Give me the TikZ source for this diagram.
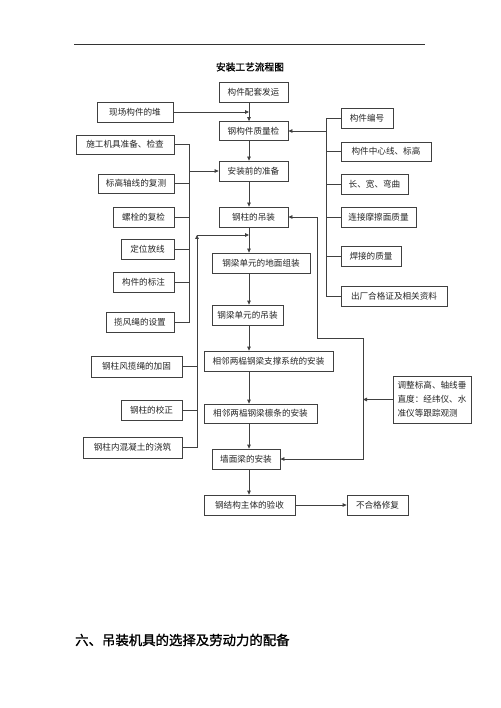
\documentclass[tikz,border=0pt]{standalone}
\usepackage{fontspec}
\setmainfont{Noto Sans CJK SC}
\newfontfamily\cjkbold{Noto Sans CJK SC}[FakeBold=1.2]
\usetikzlibrary{arrows.meta}
\begin{document}
\begin{tikzpicture}[x=1pt,y=-1pt,
  box/.style={draw=black!75, line width=0.8pt, inner sep=0pt, text=black!85,
    font=\fontsize{8.6}{10}\selectfont},
  ln/.style={draw=black!75, line width=0.8pt},
  arr/.style={ln, -{Triangle[length=4pt,width=3.6pt]}},
]
\useasboundingbox[fill=white] (0,0) rectangle (500,708);
% top rule and headings
\coordinate (ruleL) at (74,44);
\coordinate (ruleR) at (425,44);
\draw[line width=0.8pt, black!80] (ruleL) -- (ruleR);
\node[font=\cjkbold\fontsize{9.7}{11}\selectfont] (title) at (250,67) {安装工艺流程图};
\node[anchor=west, inner sep=0pt, font=\cjkbold\fontsize{13.4}{15}\selectfont] (h6) at (75,640) {六、吊装机具的选择及劳动力的配备};

% guide coordinates
\coordinate (spine) at (249,0);
\coordinate (lx1) at (189,0);
\coordinate (lx2) at (197,0);
\coordinate (rx) at (326,0);
\coordinate (fx1) at (317,0);
\coordinate (fx2) at (363,0);
\coordinate (fy) at (0,338);
\coordinate (jy) at (0,235);

% central column
\node[box, minimum width=69pt, minimum height=20pt] (c1) at (253.5,92) {构件配套发运};
\node[box, minimum width=69pt, minimum height=19pt] (c2) at (253.5,131) {钢构件质量检};
\node[box, minimum width=69pt, minimum height=20pt] (c3) at (253.5,171) {安装前的准备};
\node[box, minimum width=69pt, minimum height=20pt] (c4) at (253.5,217) {钢柱的吊装};
\node[box, minimum width=98pt, minimum height=20pt] (c5) at (261,263) {钢梁单元的地面组装};
\node[box, minimum width=71pt, minimum height=20pt] (c6) at (247.5,315) {钢梁单元的吊装};
\node[box, minimum width=129pt, minimum height=20pt] (c7) at (268.5,361) {相邻两榀钢梁支撑系统的安装};
\node[box, minimum width=113pt, minimum height=19pt] (c8) at (260.5,413.5) {相邻两榀钢梁檩条的安装};
\node[box, minimum width=68pt, minimum height=20pt] (c9) at (246,459) {墙面梁的安装};
\node[box, minimum width=91pt, minimum height=20pt] (c10) at (249.5,505) {钢结构主体的验收};
\node[box, minimum width=61pt, minimum height=20pt] (c11) at (377.5,505) {不合格修复};

% left column
\node[box, minimum width=76pt, minimum height=20pt] (l0) at (135,112) {现场构件的堆};
\node[box, minimum width=98pt, minimum height=19pt] (l1) at (125,144.5) {施工机具准备、检查};
\node[box, minimum width=76pt, minimum height=19pt] (l2) at (136,183.5) {标高轴线的复测};
\node[box, minimum width=61pt, minimum height=20pt] (l3) at (143.5,217) {螺栓的复检};
\node[box, minimum width=53pt, minimum height=20pt] (l4) at (147.5,249) {定位放线};
\node[box, minimum width=61pt, minimum height=20pt] (l5) at (143.5,282) {构件的标注};
\node[box, minimum width=68pt, minimum height=20pt] (l6) at (140,322) {揽风绳的设置};
\node[box, minimum width=91pt, minimum height=21pt] (l7) at (136.5,366.5) {钢柱风揽绳的加固};
\node[box, minimum width=61pt, minimum height=20pt] (l8) at (151.5,410) {钢柱的校正};
\node[box, minimum width=99pt, minimum height=21pt] (l9) at (132.5,447.5) {钢柱内混凝土的浇筑};

% right column
\node[box, minimum width=52pt, minimum height=20pt] (r1) at (367,118) {构件编号};
\node[box, minimum width=90pt, minimum height=19pt] (r2) at (386,151.5) {构件中心线、标高};
\node[box, minimum width=67pt, minimum height=20pt] (r3) at (374.5,184) {长、宽、弯曲};
\node[box, minimum width=75pt, minimum height=20pt] (r4) at (378.5,217) {连接摩擦面质量};
\node[box, minimum width=60pt, minimum height=20pt] (r5) at (371,256) {焊接的质量};
\node[box, minimum width=106pt, minimum height=20pt] (r6) at (394,296) {出厂合格证及相关资料};
\node[box, minimum width=78pt, minimum height=47pt, align=left,
  font=\fontsize{8.6}{14}\selectfont] (r7) at (432,399.5) {调整标高、轴线垂\\直度：经纬仪、水\\准仪等跟踪观测};

% spine arrows
\draw[arr] (c1.south -| spine) -- (c2.north -| spine);
\draw[arr] (c2.south -| spine) -- (c3.north -| spine);
\draw[arr] (c3.south -| spine) -- (c4.north -| spine);
\draw[arr] (c4.south -| spine) -- (c5.north -| spine);
\draw[arr] (c5.south -| spine) -- (c6.north -| spine);
\draw[arr] (c6.south -| spine) -- (c7.north -| spine);
\draw[arr] (c7.south -| spine) -- (c8.north -| spine);
\draw[arr] (c8.south -| spine) -- (c9.north -| spine);
\draw[arr] (c9.south -| spine) -- (c10.north -| spine);
\draw[arr] (c10.east) -- (c11.west);

% left group 0
\draw[arr] (l0.east) -- (l0.east -| spine);

% left group 1
\draw[ln] (l1.east) -| (l6.east -| lx1) -- (l6.east);
\draw[ln] (l2.east) -- (l2.east -| lx1);
\draw[ln] (l3.east) -- (l3.east -| lx1);
\draw[ln] (l4.east) -- (l4.east -| lx1);
\draw[ln] (l5.east) -- (l5.east -| lx1);
\draw[arr] (c3.west -| lx1) -- (c3.west);

% left group 2
\draw[ln] (l7.east) -- (l7.east -| lx2);
\draw[ln] (l8.east) -- (l8.east -| lx2);
\draw[arr] (l9.east) -| (lx2 |- jy);
\draw[arr] (lx2 |- jy) -- (spine |- jy);

% right group
\draw[ln] (r1.west) -| (r6.west -| rx) -- (r6.west);
\draw[ln] (r2.west) -- (r2.west -| rx);
\draw[ln] (r3.west) -- (r3.west -| rx);
\draw[ln] (r4.west) -- (r4.west -| rx);
\draw[ln] (r5.west) -- (r5.west -| rx);
\draw[arr] (c2.east -| rx) -- (c2.east);

% feedback loop
\draw[ln, {Triangle[length=4pt,width=3.6pt]}-{Triangle[length=4pt,width=3.6pt]}]
  (c4.east) -- (c4.east -| fx1) -- (fx1 |- fy) -- (fx2 |- fy) -- (c9.east -| fx2) -- (c9.east);
\draw[arr] (r7.west) -- (r7.west -| fx2);
\end{tikzpicture}
\end{document}
